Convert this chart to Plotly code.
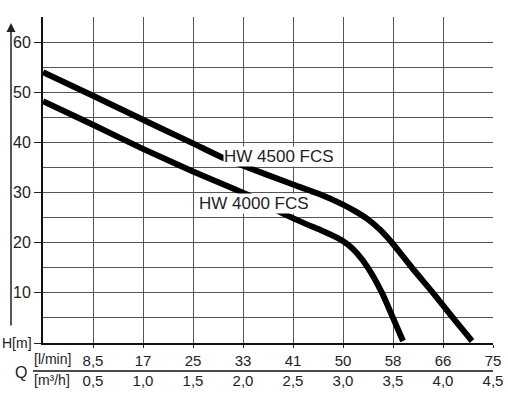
import plotly.graph_objects as go

# ---- data ----
q_4500 = [0, 0.5, 1.0, 1.5, 1.77, 1.97, 2.5, 2.75, 3.0, 3.12, 3.24, 3.37, 3.49, 3.69, 3.9, 4.1, 4.29]
h_4500 = [54.0, 49.3, 44.5, 39.8, 37.2, 35.6, 31.6, 29.8, 27.6, 26.3, 24.8, 22.6, 20.0, 15.0, 10.0, 5.0, 0.4]

q_4000 = [0, 0.5, 1.0, 1.5, 2.04, 2.34, 2.6, 2.8, 2.95, 3.05, 3.14, 3.25, 3.39, 3.5, 3.6]
h_4000 = [48.2, 43.5, 38.7, 34.2, 29.6, 26.4, 24.0, 22.3, 20.9, 19.6, 17.9, 15.0, 10.0, 5.0, 0.4]

x_m3h = [0.5, 1.0, 1.5, 2.0, 2.5, 3.0, 3.5, 4.0, 4.5]
x_m3h_labels = ["0,5", "1,0", "1,5", "2,0", "2,5", "3,0", "3,5", "4,0", "4,5"]
x_lmin_labels = ["8,5", "17", "25", "33", "41", "50", "58", "66", "75"]

y_major = [0, 10, 20, 30, 40, 50, 60]
y_major_labels = ["", "10", "20", "30", "40", "50", "60"]
y_minor = [5, 15, 25, 35, 45, 55, 65]

FONT = "Liberation Sans, Arial, sans-serif"
TXT = "#222222"
GRID = "#555555"

fig = go.Figure()
for qs, hs in ((q_4500, h_4500), (q_4000, h_4000)):
    fig.add_trace(go.Scatter(x=qs, y=hs, mode="lines",
                             line=dict(color="black", width=6, shape="spline", smoothing=0.7),
                             showlegend=False, hoverinfo="skip"))

ticktext = [f"{a}<br>{b}" for a, b in zip(x_lmin_labels, x_m3h_labels)]

fig.update_layout(
    width=508, height=398,
    margin=dict(l=43, r=15, t=17, b=55, autoexpand=False),
    paper_bgcolor="white", plot_bgcolor="white",
    font=dict(family=FONT, color=TXT, size=16),
    xaxis=dict(range=[0, 4.5], tickvals=x_m3h, ticktext=ticktext, automargin=False,
               showgrid=True, gridcolor=GRID, gridwidth=1,
               showline=True, linecolor="#111111", linewidth=2,
               ticks="outside", ticklen=3, tickwidth=1.2, tickcolor=TXT,
               tickfont=dict(size=15, color=TXT, family=FONT),
               zeroline=False, fixedrange=True),
    yaxis=dict(range=[0, 65], tickvals=y_major, ticktext=y_major_labels, automargin=False,
               showgrid=True, gridcolor=GRID, gridwidth=1,
               minor=dict(tickvals=y_minor, showgrid=True, gridcolor=GRID, gridwidth=1, ticks=""),
               showline=True, linecolor="#111111", linewidth=2,
               ticks="outside", ticklen=7, tickwidth=1.2, tickcolor=TXT,
               tickfont=dict(size=16, color=TXT, family=FONT),
               zeroline=False, fixedrange=True),
)

# curve labels (white box hides the line underneath, as in the original)
fig.add_annotation(x=2.36, y=37.2, xref="x", yref="y", text="HW 4500 FCS", showarrow=False,
                   font=dict(size=17, color=TXT, family=FONT), bgcolor="white", borderpad=0)
fig.add_annotation(x=2.105, y=27.8, xref="x", yref="y", text="HW 4000 FCS", showarrow=False,
                   font=dict(size=17, color=TXT, family=FONT), bgcolor="white", borderpad=0)

# axis captions
fig.add_annotation(x=(34 - 43) / 450, y=0, xref="paper", yref="y", text="H[m]", showarrow=False,
                   xanchor="right", yanchor="middle",
                   font=dict(size=14, color=TXT, family=FONT))
fig.add_annotation(x=(52 - 43) / 450, y=(343 - 359) / 326, xref="paper", yref="paper",
                   text="[l/min]", showarrow=False, xanchor="center", yanchor="middle",
                   font=dict(size=14, color=TXT, family=FONT))
fig.add_annotation(x=(52 - 43) / 450, y=(343 - 380) / 326, xref="paper", yref="paper",
                   text="[m³/h]", showarrow=False, xanchor="center", yanchor="middle",
                   font=dict(size=14, color=TXT, family=FONT))
fig.add_annotation(x=(21 - 43) / 450, y=(343 - 372) / 326, xref="paper", yref="paper",
                   text="Q", showarrow=False, xanchor="center", yanchor="middle",
                   font=dict(size=16, color=TXT, family=FONT))

# vertical arrow on the left
fig.add_annotation(x=(11 - 43) / 450, y=(343 - 23) / 326, xref="paper", yref="paper",
                   ax=0, ay=304, axref="pixel", ayref="pixel", text="", showarrow=True,
                   arrowhead=2, arrowsize=1.2, arrowwidth=1.5, arrowcolor=TXT)

# separator line between the two Q unit rows
fig.add_shape(type="line", xref="paper", yref="paper",
              x0=(33 - 43) / 450, x1=1.0, y0=(343 - 371) / 326, y1=(343 - 371) / 326,
              line=dict(color="#111111", width=1.5))

fig.write_html("out.html", config={"displayModeBar": False},
               post_script="document.body.style.margin='0';document.body.style.padding='0';")
